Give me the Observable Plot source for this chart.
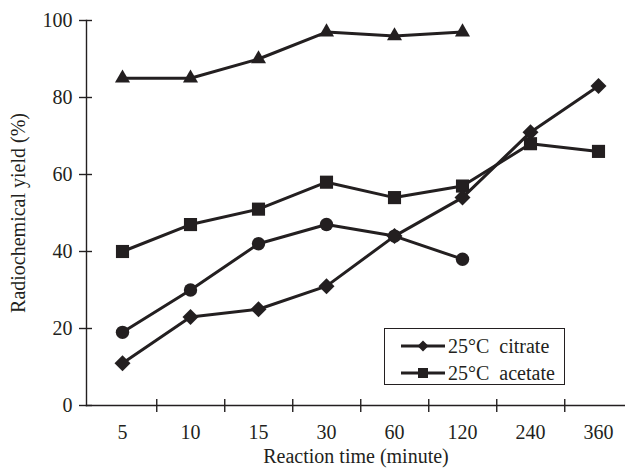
<!DOCTYPE html>
<html>
<head>
<meta charset="utf-8">
<script src="https://cdn.jsdelivr.net/npm/d3@7"></script>
<script src="https://cdn.jsdelivr.net/npm/@observablehq/plot@0.6"></script>
<style>
  html, body { margin: 0; padding: 0; background: #fff; }
  #wrap { position: relative; width: 625px; height: 469px; font-family: "Liberation Serif", "Times New Roman", serif; }
  #legend { position: absolute; left: 384px; top: 328px; width: 179px; height: 55px; border: 1px solid #231f20; background: #fff; box-sizing: content-box; }
  .row { position: absolute; left: 16px; height: 24px; display: flex; align-items: center; font-size: 20px; color: #231f20; white-space: pre; }
  .row svg { display: block; margin-right: 3px; }
</style>
</head>
<body>
<div id="wrap"></div>
<script>
const times = ["5", "10", "15", "30", "60", "120", "240", "360"];
const triangleVals = [85, 85, 90, 97, 96, 97];
const acetateVals = [40, 47, 51, 58, 54, 57, 68, 66];
const circleVals = [19, 30, 42, 47, 44, 38];
const citrateVals = [11, 23, 25, 31, 44, 54, 71, 83];
const yTicks = [0, 20, 40, 60, 80, 100];
const xLabel = "Reaction time (minute)";
const yLabel = "Radiochemical yield (%)";
const legendItems = [
  {name: "25°C  citrate", symbol: "diamond"},
  {name: "25°C  acetate", symbol: "square"}
];

const ink = "#231f20";
const series = [
  {key: "triangle", vals: triangleVals, symbol: "triangle", r: 5.6},
  {key: "acetate", vals: acetateVals, symbol: "square", r: 7.4},
  {key: "circle", vals: circleVals, symbol: "circle", r: 6.7},
  {key: "citrate", vals: citrateVals, symbol: "diamond2", r: 7.2}
];
const rows = series.flatMap(s => s.vals.map((v, i) => ({series: s.key, t: times[i], v, symbol: s.symbol, r: s.r})));

const marginLeft = 86, width = 625;
const bandStep = 68.5;
const lineMarks = series.map(s => Plot.line(rows.filter(d => d.series === s.key), {x: "t", y: "v", stroke: ink, strokeWidth: 3}));
const dotMarks = series.map(s => Plot.dot(rows.filter(d => d.series === s.key), {x: "t", y: "v", symbol: s.symbol, r: s.r, fill: ink, stroke: "none"}));

const chart = Plot.plot({
  width, height: 469,
  marginLeft, marginRight: 0, marginTop: 20, marginBottom: 64,
  style: {fontFamily: '"Liberation Serif", "Times New Roman", serif', fontSize: "20px", color: ink, background: "white", overflow: "visible"},
  x: {type: "band", domain: times, range: [marginLeft, marginLeft + bandStep * times.length], padding: 0},
  y: {domain: [0, 100], ticks: yTicks},
  marks: [
    Plot.frame({anchor: "left", stroke: ink, strokeWidth: 1.4}),
    Plot.frame({anchor: "bottom", stroke: ink, strokeWidth: 1.4}),
    Plot.axisY({ticks: yTicks, tickSize: 13, dx: 6, tickPadding: 7, label: null, stroke: ink, strokeWidth: 1.4, fill: ink, fontSize: 20}),
    Plot.axisX({ticks: times.slice(0, 7), tickSize: 13, dx: bandStep / 2, dy: -6, tickFormat: () => "", label: null, stroke: ink, strokeWidth: 1.4}),
    Plot.axisX({ticks: times, tickSize: 0, tickPadding: 19, label: null, fill: ink, fontSize: 20}),
    Plot.text([xLabel], {frameAnchor: "bottom", lineAnchor: "middle", textAnchor: "middle", dy: 51, fill: ink, fontSize: 20}),
    Plot.text([yLabel], {frameAnchor: "left", lineAnchor: "middle", textAnchor: "middle", dx: -68, rotate: -90, fill: ink, fontSize: 20}),
    ...lineMarks,
    ...dotMarks
  ]
});
const wrap = document.getElementById("wrap");
wrap.appendChild(chart);

// legend
const legend = document.createElement("div");
legend.id = "legend";
legendItems.forEach((it, i) => {
  const row = document.createElement("div");
  row.className = "row";
  row.style.top = (5 + i * 27) + "px";
  const ns = "http://www.w3.org/2000/svg";
  const sv = document.createElementNS(ns, "svg");
  sv.setAttribute("width", 44); sv.setAttribute("height", 14);
  const ln = document.createElementNS(ns, "line");
  ln.setAttribute("x1", 0); ln.setAttribute("x2", 44); ln.setAttribute("y1", 7); ln.setAttribute("y2", 7);
  ln.setAttribute("stroke", ink); ln.setAttribute("stroke-width", 3);
  sv.appendChild(ln);
  const p = document.createElementNS(ns, "path");
  if (it.symbol === "diamond") p.setAttribute("d", "M22,1.5L27.5,7L22,12.5L16.5,7Z");
  else p.setAttribute("d", "M17,2H27V12H17Z");
  p.setAttribute("fill", ink);
  sv.appendChild(p);
  row.appendChild(sv);
  row.appendChild(document.createTextNode(it.name));
  legend.appendChild(row);
});
wrap.appendChild(legend);
</script>
</body>
</html>
